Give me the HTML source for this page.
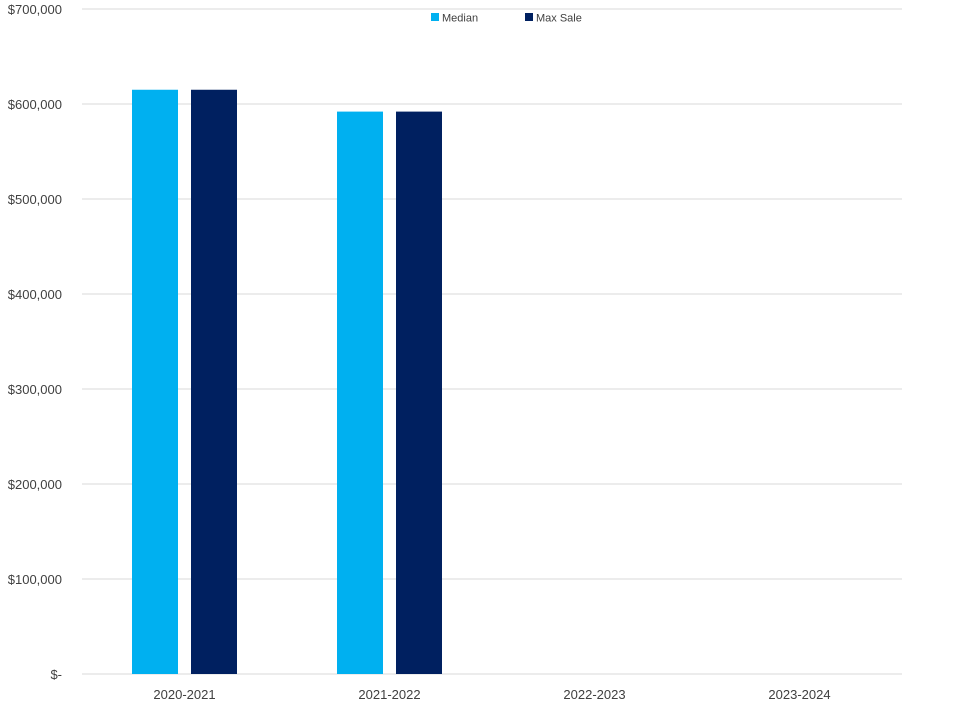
<!DOCTYPE html>
<html><head><meta charset="utf-8"><style>
body{margin:0;background:#fff;}
svg text{font-family:"Liberation Sans",sans-serif;}
</style></head><body>
<svg id="chart" width="973" height="705" viewBox="0 0 973 705"></svg>
<script>
const categories=["2020-2021","2021-2022","2022-2023","2023-2024"];
const medianValues=[615000,592000,0,0];
const maxSaleValues=[615000,592000,0,0];
const yTicks=[0,100000,200000,300000,400000,500000,600000,700000];
const yTickLabels=["$-","$100,000","$200,000","$300,000","$400,000","$500,000","$600,000","$700,000"];
const seriesNames=["Median","Max Sale"];
const colors=["#00B0F0","#002060"];

const svg=document.getElementById('chart');
const NS='http://www.w3.org/2000/svg';
const plotLeft=82,plotRight=902,plotTop=9,plotBottom=674,maxV=700000;
const yScale=v=>plotBottom-(v/maxV)*(plotBottom-plotTop);
const band=(plotRight-plotLeft)/categories.length;
const xc=i=>plotLeft+band*(i+0.5);
function mk(t,a){const e=document.createElementNS(NS,t);for(const k in a)e.setAttribute(k,a[k]);svg.appendChild(e);return e;}

yTicks.forEach((t,i)=>{
  const l=mk('line',{x1:plotLeft,x2:plotRight,y1:yScale(t),y2:yScale(t),stroke:'#d9d9d9','stroke-width':1});
  
  
  const tx=mk('text',{x:62,y:yScale(t)+5,'text-anchor':'end','font-size':13,fill:'#404040'});
  tx.textContent=yTickLabels[i];
  
  
});
const bw=46,gap=13;
[medianValues,maxSaleValues].forEach((vals,s)=>{
  vals.forEach((v,i)=>{
    if(v<=0)return;
    const x=xc(i)-bw-gap/2+s*(bw+gap);
    const r=mk('rect',{x:x,y:yScale(v),width:bw,height:plotBottom-yScale(v),fill:colors[s]});
    
    
  });
});
categories.forEach((c,i)=>{
  const t=mk('text',{x:xc(i),y:699,'text-anchor':'middle','font-size':13,fill:'#404040'});
  t.textContent=c;
  
  
});
const lx=[431,525];
seriesNames.forEach((n,s)=>{
  const r=mk('rect',{x:lx[s],y:13,width:8,height:8,fill:colors[s]});
  
  
  const t=mk('text',{x:lx[s]+11,y:21.5,'font-size':11,fill:'#404040'});
  t.textContent=n;
  
  
});
</script>
</body></html>
